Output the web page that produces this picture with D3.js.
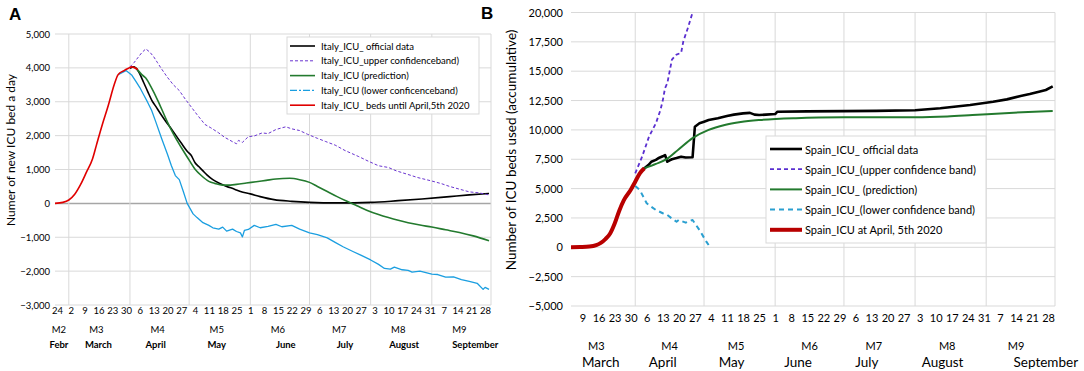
<!DOCTYPE html>
<html><head><meta charset="utf-8">
<script src="https://cdn.jsdelivr.net/npm/d3@7"></script>
<style>
body{margin:0;background:#fff}
svg{display:block}
text{font-family:Lato,'Open Sans',sans-serif;fill:#000}
</style>
</head><body>
<svg id="chart" width="1084" height="371"></svg>
<script>
// ---------------- Panel A : Italy ----------------
const italyTickLabels = ["24","2","9","16","23","30","6","13","20","27","4","11","18","25","1","8","15","22","29","6","13","20","27","3","10","17","24","31","7","14","21","28"];
const italyFirstTick = "2020-02-24";
const italyYTicks = [5000,4000,3000,2000,1000,0,-1000,-2000,-3000];
const italyMonthCodes = ["M2","M3","M4","M5","M6","M7","M8","M9"];
const italyMonthNames = ["Febr","March","April","May","June","July","August","September"];
const italyMonthCodeDates = ["2020-02-25","2020-03-15","2020-04-15","2020-05-15","2020-06-15","2020-07-16","2020-08-15","2020-09-15"];
const italyMonthNameDates = ["2020-02-25","2020-03-16","2020-04-14","2020-05-15","2020-06-19","2020-07-19","2020-08-18","2020-09-23"];
const italyGridDates = ["2020-03-01","2020-04-01","2020-05-01","2020-06-01","2020-07-01","2020-08-01","2020-09-01","2020-10-01"];

const italyBedsUntilApr5 = [["2020-02-23",0],["2020-02-27",30],["2020-03-01",100],["2020-03-04",270],["2020-03-07",560],["2020-03-10",930],["2020-03-13",1310],["2020-03-15",1720],["2020-03-18",2330],["2020-03-21",2890],["2020-03-24",3500],["2020-03-26",3800],["2020-03-29",3920],["2020-03-31",3980],["2020-04-02",4030],["2020-04-05",3950]];
const italyOfficial = [["2020-04-01",3990],["2020-04-03",4030],["2020-04-05",3920],["2020-04-08",3560],["2020-04-10",3300],["2020-04-12",3050],["2020-04-14",2870],["2020-04-17",2600],["2020-04-19",2430],["2020-04-22",2200],["2020-04-24",2030],["2020-04-27",1780],["2020-04-30",1540],["2020-05-02",1420],["2020-05-04",1200],["2020-05-06",1080],["2020-05-08",960],["2020-05-10",840],["2020-05-13",700],["2020-05-16",600],["2020-05-20",500],["2020-05-24",420],["2020-05-27",350],["2020-06-01",280],["2020-06-06",200],["2020-06-13",110],["2020-06-22",60],["2020-07-01",30],["2020-07-15",15],["2020-08-01",30],["2020-08-15",80],["2020-08-27",130],["2020-09-10",200],["2020-09-20",250],["2020-09-30",290]];
const italyUpper = [["2020-04-01",4030],["2020-04-03",4150],["2020-04-05",4300],["2020-04-07",4450],["2020-04-09",4560],["2020-04-11",4470],["2020-04-13",4330],["2020-04-15",4150],["2020-04-17",3970],["2020-04-20",3720],["2020-04-23",3500],["2020-04-26",3330],["2020-04-29",3080],["2020-05-02",2850],["2020-05-05",2620],["2020-05-09",2330],["2020-05-12",2230],["2020-05-16",2080],["2020-05-19",1950],["2020-05-23",1820],["2020-05-25",1760],["2020-05-26",1860],["2020-05-28",1800],["2020-05-31",1970],["2020-06-03",1990],["2020-06-07",2080],["2020-06-10",2060],["2020-06-14",2180],["2020-06-17",2230],["2020-06-19",2260],["2020-06-22",2200],["2020-06-26",2150],["2020-06-30",2040],["2020-07-05",1920],["2020-07-09",1830],["2020-07-14",1720],["2020-07-19",1560],["2020-07-26",1380],["2020-07-31",1240],["2020-08-05",1110],["2020-08-10",1060],["2020-08-14",960],["2020-08-19",870],["2020-08-25",760],["2020-09-01",660],["2020-09-06",580],["2020-09-10",500],["2020-09-15",420],["2020-09-20",340],["2020-09-25",310],["2020-09-30",250]];
const italyPrediction = [["2020-04-04",4000],["2020-04-07",3800],["2020-04-09",3700],["2020-04-12",3400],["2020-04-15",3050],["2020-04-18",2660],["2020-04-20",2400],["2020-04-23",2050],["2020-04-27",1650],["2020-04-30",1370],["2020-05-04",1010],["2020-05-07",830],["2020-05-11",650],["2020-05-14",590],["2020-05-18",540],["2020-05-22",540],["2020-05-25",560],["2020-05-30",600],["2020-06-04",640],["2020-06-09",680],["2020-06-14",720],["2020-06-21",740],["2020-06-26",700],["2020-07-01",620],["2020-07-05",500],["2020-07-10",350],["2020-07-15",200],["2020-07-20",60],["2020-07-25",-70],["2020-07-30",-200],["2020-08-05",-330],["2020-08-10",-420],["2020-08-15",-500],["2020-08-20",-570],["2020-08-26",-640],["2020-09-01",-700],["2020-09-08",-780],["2020-09-15",-860],["2020-09-22",-960],["2020-09-30",-1100]];
const italyLower = [["2020-03-26",3800],["2020-03-30",3920],["2020-04-02",3780],["2020-04-04",3600],["2020-04-06",3420],["2020-04-08",3200],["2020-04-10",2980],["2020-04-12",2740],["2020-04-14",2420],["2020-04-17",1920],["2020-04-20",1450],["2020-04-22",1110],["2020-04-24",820],["2020-04-26",700],["2020-04-28",360],["2020-04-30",0],["2020-05-03",-310],["2020-05-05",-420],["2020-05-08",-570],["2020-05-11",-650],["2020-05-13",-720],["2020-05-16",-760],["2020-05-18",-700],["2020-05-20",-820],["2020-05-23",-760],["2020-05-25",-830],["2020-05-27",-870],["2020-05-28",-990],["2020-05-29",-800],["2020-05-31",-770],["2020-06-03",-650],["2020-06-06",-720],["2020-06-10",-680],["2020-06-14",-620],["2020-06-17",-690],["2020-06-22",-650],["2020-06-26",-760],["2020-07-01",-870],["2020-07-05",-920],["2020-07-10",-1020],["2020-07-14",-1150],["2020-07-18",-1280],["2020-07-23",-1420],["2020-07-27",-1530],["2020-08-01",-1670],["2020-08-05",-1800],["2020-08-08",-1920],["2020-08-11",-1940],["2020-08-13",-1880],["2020-08-17",-1960],["2020-08-20",-1980],["2020-08-22",-2030],["2020-08-26",-2000],["2020-09-01",-2090],["2020-09-04",-2100],["2020-09-08",-2180],["2020-09-12",-2170],["2020-09-16",-2250],["2020-09-20",-2300],["2020-09-24",-2360],["2020-09-27",-2540],["2020-09-28",-2480],["2020-09-30",-2540]];
const italyLegend = ["Italy_ICU_ official data","Italy_ICU_upper confidenceband)","Italy_ICU (prediction)","Italy_ICU (lower conficenceband)","Italy_ICU_ beds until April,5th 2020"];

// ---------------- Panel B : Spain ----------------
const spainTickLabels = ["9","16","23","30","6","13","20","27","4","11","18","25","1","8","15","22","29","6","13","20","27","3","10","17","24","31","7","14","21","28"];
const spainFirstTick = "2020-03-09";
const spainYTicks = [20000,17500,15000,12500,10000,7500,5000,2500,0,-2500,-5000];
const spainMonthCodes = ["M3","M4","M5","M6","M7","M8","M9"];
const spainMonthNames = ["March","April","May","June","July","August","September"];
const spainMonthCodeDates = ["2020-03-15","2020-04-16","2020-05-15","2020-06-16","2020-07-14","2020-08-15","2020-09-14"];
const spainMonthNameDates = ["2020-03-17","2020-04-13","2020-05-13","2020-06-11","2020-07-11","2020-08-13","2020-09-27"];
const spainGridDates = ["2020-04-01","2020-05-01","2020-06-01","2020-07-01","2020-08-01","2020-09-01","2020-10-01"];

const spainAtApr5 = [["2020-03-04",0],["2020-03-08",20],["2020-03-12",60],["2020-03-15",180],["2020-03-17",380],["2020-03-19",700],["2020-03-21",1150],["2020-03-23",2000],["2020-03-25",3100],["2020-03-27",4000],["2020-03-30",4880],["2020-04-01",5590],["2020-04-03",6300],["2020-04-05",6730]];
const spainOfficial = [["2020-04-04",6550],["2020-04-05",6730],["2020-04-07",7050],["2020-04-08",7290],["2020-04-10",7450],["2020-04-11",7580],["2020-04-13",7750],["2020-04-14",7860],["2020-04-15",7290],["2020-04-16",7400],["2020-04-17",7500],["2020-04-19",7600],["2020-04-21",7720],["2020-04-23",7650],["2020-04-26",7670],["2020-04-27",10270],["2020-04-29",10560],["2020-05-01",10700],["2020-05-03",10840],["2020-05-07",11000],["2020-05-11",11180],["2020-05-14",11300],["2020-05-18",11410],["2020-05-21",11450],["2020-05-23",11300],["2020-05-25",11270],["2020-05-28",11300],["2020-06-01",11350],["2020-06-02",11550],["2020-06-15",11580],["2020-07-01",11600],["2020-07-15",11620],["2020-08-01",11680],["2020-08-12",11840],["2020-08-25",12120],["2020-09-04",12400],["2020-09-10",12600],["2020-09-16",12890],["2020-09-20",13050],["2020-09-24",13250],["2020-09-27",13400],["2020-09-30",13700]];
const spainUpper = [["2020-04-01",6300],["2020-04-04",7720],["2020-04-07",9420],["2020-04-10",10560],["2020-04-12",11700],["2020-04-13",12500],["2020-04-14",13560],["2020-04-15",13990],["2020-04-16",14990],["2020-04-17",15990],["2020-04-19",16420],["2020-04-21",16560],["2020-04-22",17570],["2020-04-24",18710],["2020-04-26",20000]];
const spainPrediction = [["2020-04-05",6730],["2020-04-10",7100],["2020-04-15",7550],["2020-04-20",8350],["2020-04-26",9300],["2020-05-03",10000],["2020-05-10",10420],["2020-05-17",10670],["2020-05-25",10840],["2020-06-10",11000],["2020-07-01",11070],["2020-08-01",11080],["2020-08-15",11150],["2020-08-26",11270],["2020-09-13",11470],["2020-09-30",11600]];
const spainLower = [["2020-04-01",5220],["2020-04-03",4880],["2020-04-06",3750],["2020-04-08",3450],["2020-04-10",3180],["2020-04-13",2900],["2020-04-15",2750],["2020-04-17",2450],["2020-04-19",2180],["2020-04-20",2330],["2020-04-23",2100],["2020-04-26",2330],["2020-04-29",1470],["2020-05-02",480],["2020-05-03",200]];
const spainLegend = ["Spain_ICU_ official data","Spain_ICU_(upper confidence band)","Spain_ICU_ (prediction)","Spain_ICU_(lower confidence band)","Spain_ICU at April, 5th 2020"];

// ---------------- drawing ----------------
const parse = d3.timeParse("%Y-%m-%d");
const svg = d3.select("#chart");
const GRID = "#d9d9d9";

function weekDates(first, n){ const s = parse(first); return d3.range(n).map(i => d3.timeDay.offset(s, 7*i)); }

function panel(cfg){
  const g = svg.append("g");
  const x = cfg.x, y = cfg.y;
  const [x0, x1] = x.range();
  const [yb, yt] = y.range();
  // horizontal grid
  g.append("g").selectAll("line").data(cfg.yTicks).join("line")
    .attr("x1", x0).attr("x2", x1).attr("y1", d => y(d)).attr("y2", d => y(d))
    .attr("stroke", d => (d === 0 && cfg.darkZero) ? "#a6a6a6" : GRID)
    .attr("stroke-width", d => (d === 0 && cfg.darkZero) ? 1.5 : 1);
  // vertical grid
  g.append("g").selectAll("line").data(cfg.gridDates.map(parse)).join("line")
    .attr("x1", d => x(d)).attr("x2", d => x(d)).attr("y1", yt).attr("y2", yb)
    .attr("stroke", GRID).attr("stroke-width", 1);
  // y axis labels
  const ya = g.append("g").attr("transform", `translate(${x0},0)`)
    .call(d3.axisLeft(y).tickValues(cfg.yTicks).tickSize(0).tickPadding(cfg.yPad).tickFormat(d3.format(",")));
  ya.select(".domain").remove();
  ya.selectAll("text").style("font-family","Lato,'Open Sans',sans-serif").style("font-size", cfg.tickFont + "px").attr("fill","#000");
  // x axis weekly labels
  const wd = weekDates(cfg.firstTick, cfg.tickLabels.length);
  const xa = g.append("g").attr("transform", `translate(0,${cfg.xAxisY})`)
    .call(d3.axisBottom(x).tickValues(wd).tickSize(0).tickPadding(0).tickFormat((d,i) => cfg.tickLabels[i]));
  xa.select(".domain").remove();
  xa.selectAll("text").style("font-family","Lato,'Open Sans',sans-serif").style("font-size", cfg.xTickFont + "px").attr("fill","#000");
  // month codes and names
  g.append("g").selectAll("text").data(cfg.monthCodes).join("text")
    .attr("x", (d,i) => x(parse(cfg.monthCodeDates[i]))).attr("y", cfg.codeY)
    .attr("text-anchor","middle").attr("dominant-baseline","central")
    .style("font-size", cfg.codeFont + "px").text(d => d);
  g.append("g").selectAll("text").data(cfg.monthNames).join("text")
    .attr("x", (d,i) => x(parse(cfg.monthNameDates[i]))).attr("y", cfg.nameY)
    .attr("text-anchor","middle").attr("dominant-baseline","central")
    .style("font-size", cfg.nameFont + "px").style("font-weight", cfg.nameWeight).text(d => d);
  // y title
  g.append("text").attr("transform", `translate(${cfg.titleX},${cfg.titleY}) rotate(-90)`)
    .attr("text-anchor","middle").attr("dominant-baseline","central")
    .style("font-size", cfg.titleFont + "px").text(cfg.title);
  // panel letter
  g.append("text").attr("x", cfg.letterX).attr("y", cfg.letterY)
    .style("font-family","'Liberation Sans',Arial,sans-serif").style("font-weight","bold").style("font-size","17px").text(cfg.letter);
  // series
  const line = d3.line().x(d => x(parse(d[0]))).y(d => y(d[1]));
  cfg.series.forEach(s => {
    g.append("path").datum(s.data).attr("fill","none")
      .attr("stroke", s.color).attr("stroke-width", s.width)
      .attr("stroke-dasharray", s.dash || null)
      .attr("stroke-linejoin","round")
      .attr("d", line.curve(s.curve || d3.curveMonotoneX));
  });
  // legend
  const L = cfg.legend;
  const lg = g.append("g");
  lg.append("rect").attr("x", L.x).attr("y", L.y).attr("width", L.w).attr("height", L.h)
    .attr("fill","#fff").attr("stroke", GRID);
  L.items.forEach((it, i) => {
    const yy = L.y + L.first + i * L.step;
    lg.append("line").attr("x1", L.x + L.l0).attr("x2", L.x + L.l1).attr("y1", yy).attr("y2", yy)
      .attr("stroke", it.color).attr("stroke-width", it.width).attr("stroke-dasharray", it.dash || null);
    lg.append("text").attr("x", L.x + L.tx).attr("y", yy).attr("dominant-baseline","central")
      .style("font-size", L.font + "px").text(it.label);
  });
}

// Panel A
const xA = d3.scaleTime().domain([parse("2020-02-23"), parse("2020-10-01")]).range([55, 491]);
const yA = d3.scaleLinear().domain([-3000, 5000]).range([305, 34]);
const cA = {black:"#000000", purple:"#6a35d0", green:"#237a2e", blue:"#1a9ee0", red:"#e00000"};
panel({
  x:xA, y:yA, yTicks:italyYTicks, darkZero:true, gridDates:italyGridDates,
  yPad:5, tickFont:9.5, firstTick:italyFirstTick, tickLabels:italyTickLabels, xAxisY:307, xTickFont:9.5,
  monthCodes:italyMonthCodes, monthCodeDates:italyMonthCodeDates, codeY:329, codeFont:9.5,
  monthNames:italyMonthNames, monthNameDates:italyMonthNameDates, nameY:344, nameFont:9.5, nameWeight:"bold",
  title:"Numer of new  ICU bed a day", titleX:10, titleY:150, titleFont:12,
  letter:"A", letterX:9, letterY:20,
  series:[
    {data:italyOfficial, color:cA.black, width:1.6},
    {data:italyUpper, color:cA.purple, width:1, dash:"3,2", curve:d3.curveLinear},
    {data:italyPrediction, color:cA.green, width:1.6},
    {data:italyLower, color:cA.blue, width:1.3, curve:d3.curveLinear},
    {data:italyBedsUntilApr5, color:cA.red, width:1.6}
  ],
  legend:{x:287, y:37, w:192, h:77, first:9, step:14.8, l0:3, l1:28, tx:34, font:9.5,
    items:[
      {label:italyLegend[0], color:cA.black, width:1.6},
      {label:italyLegend[1], color:cA.purple, width:1, dash:"3,2"},
      {label:italyLegend[2], color:cA.green, width:1.6},
      {label:italyLegend[3], color:cA.blue, width:1.3, dash:"7,2,2,2"},
      {label:italyLegend[4], color:cA.red, width:1.6}
    ]}
});

// Panel B
const xB = d3.scaleTime().domain([parse("2020-03-04"), parse("2020-10-01")]).range([571, 1055]);
const yB = d3.scaleLinear().domain([-5000, 20000]).range([306, 12.5]);
const cB = {black:"#000000", purple:"#5a2fd0", green:"#237a2e", blue:"#2a9fd0", red:"#b80000"};
panel({
  x:xB, y:yB, yTicks:spainYTicks, darkZero:false, gridDates:spainGridDates,
  yPad:8, tickFont:11, firstTick:spainFirstTick, tickLabels:spainTickLabels, xAxisY:314, xTickFont:11,
  monthCodes:spainMonthCodes, monthCodeDates:spainMonthCodeDates, codeY:345, codeFont:11,
  monthNames:spainMonthNames, monthNameDates:spainMonthNameDates, nameY:362, nameFont:13.5, nameWeight:"normal",
  title:"Number of ICU beds used (accumulative)", titleX:511, titleY:150, titleFont:13.5,
  letter:"B", letterX:481, letterY:19,
  series:[
    {data:spainOfficial, color:cB.black, width:2.6, curve:d3.curveLinear},
    {data:spainUpper, color:cB.purple, width:1.8, dash:"4,3", curve:d3.curveLinear},
    {data:spainPrediction, color:cB.green, width:2},
    {data:spainLower, color:cB.blue, width:2, dash:"5,4", curve:d3.curveLinear},
    {data:spainAtApr5, color:cB.red, width:4}
  ],
  legend:{x:766, y:136, w:220, h:107, first:13, step:20.2, l0:4, l1:36, tx:39, font:11,
    items:[
      {label:spainLegend[0], color:cB.black, width:2.6},
      {label:spainLegend[1], color:cB.purple, width:1.8, dash:"4,3"},
      {label:spainLegend[2], color:cB.green, width:2},
      {label:spainLegend[3], color:cB.blue, width:2, dash:"5,4"},
      {label:spainLegend[4], color:cB.red, width:4}
    ]}
});
</script>
</body></html>
